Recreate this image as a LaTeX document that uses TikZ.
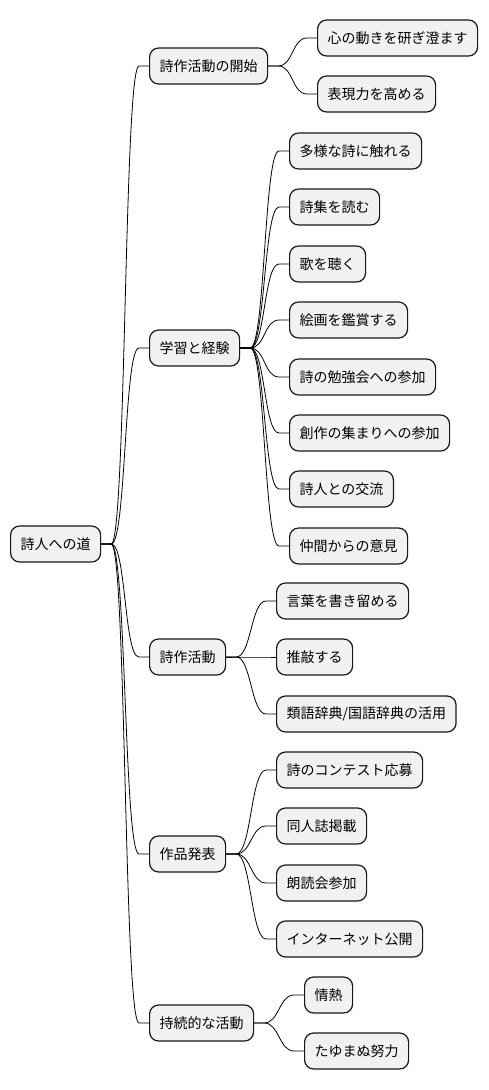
\documentclass[tikz,border=0pt]{standalone}
\usepackage{fontspec}
\setmainfont{Noto Sans CJK JP}
\usetikzlibrary{calc}
\definecolor{boxfill}{HTML}{F1F1F1}
\definecolor{boxline}{HTML}{181818}
\tikzset{
  mmbox/.style={draw=boxline, fill=boxfill, line width=1.2pt, rounded corners=9pt,
    minimum height=36pt, inner xsep=10pt, inner ysep=0pt, anchor=west,
    font=\fontsize{14pt}{16pt}\selectfont},
  mmlink/.style={draw=black, line width=0.8pt}
}
\newcommand{\mmconn}[2]{\draw[mmlink] (#1.east) -- ++(10pt,0) .. controls +(15pt,0) and +(-15pt,0) .. ([xshift=-10pt]#2.west) -- (#2.west);}
\begin{document}
\begin{tikzpicture}[x=1pt,y=-1pt]
\useasboundingbox (0,0) rectangle (488,1090);
\node[mmbox] (root) at (10,544) {詩人への道};
\node[mmbox] (a) at (149,66) {詩作活動の開始};
\node[mmbox] (b) at (149,348) {学習と経験};
\node[mmbox] (c) at (149,657) {詩作活動};
\node[mmbox] (d) at (149,854) {作品発表};
\node[mmbox] (e) at (149,1023) {持続的な活動};
\node[mmbox] (a1) at (317,38) {心の動きを研ぎ澄ます};
\node[mmbox] (a2) at (317,94) {表現力を高める};
\node[mmbox] (b1) at (289,151) {多様な詩に触れる};
\node[mmbox] (b2) at (289,207) {詩集を読む};
\node[mmbox] (b3) at (289,264) {歌を聴く};
\node[mmbox] (b4) at (289,320) {絵画を鑑賞する};
\node[mmbox] (b5) at (289,377) {詩の勉強会への参加};
\node[mmbox] (b6) at (289,433) {創作の集まりへの参加};
\node[mmbox] (b7) at (289,489) {詩人との交流};
\node[mmbox] (b8) at (289,546) {仲間からの意見};
\node[mmbox] (c1) at (276,601) {言葉を書き留める};
\node[mmbox] (c2) at (276,657) {推敲する};
\node[mmbox] (c3) at (276,714) {類語辞典/国語辞典の活用};
\node[mmbox] (d1) at (276,770) {詩のコンテスト応募};
\node[mmbox] (d2) at (276,826) {同人誌掲載};
\node[mmbox] (d3) at (276,883) {朗読会参加};
\node[mmbox] (d4) at (276,939) {インターネット公開};
\node[mmbox] (e1) at (304,995) {情熱};
\node[mmbox] (e2) at (304,1051) {たゆまぬ努力};
\foreach \n in {a,b,c,d,e} {\mmconn{root}{\n}}
\foreach \n in {a1,a2} {\mmconn{a}{\n}}
\foreach \n in {b1,b2,b3,b4,b5,b6,b7,b8} {\mmconn{b}{\n}}
\foreach \n in {c1,c2,c3} {\mmconn{c}{\n}}
\foreach \n in {d1,d2,d3,d4} {\mmconn{d}{\n}}
\foreach \n in {e1,e2} {\mmconn{e}{\n}}
\end{tikzpicture}
\end{document}
